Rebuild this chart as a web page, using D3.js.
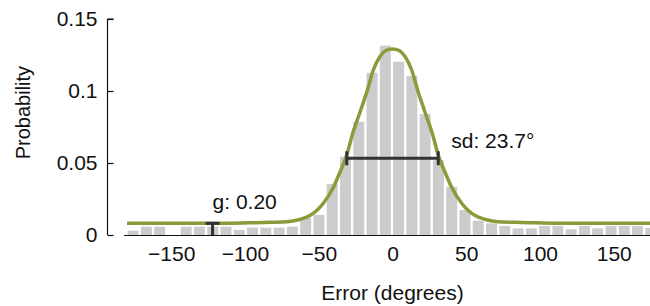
<!DOCTYPE html>
<html>
<head>
<meta charset="utf-8">
<script src="https://cdn.jsdelivr.net/npm/d3@7"></script>
<style>
  html, body { margin: 0; padding: 0; background: #fff; }
  svg { display: block; }
  text { font-family: "Liberation Sans", Arial, Helvetica, sans-serif; fill: #111; }
  .tick-label { font-size: 21px; }
  .axis-label { font-size: 21px; }
  .y-label { font-size: 20px; }
  .note { font-size: 21px; }
</style>
</head>
<body>
<svg id="chart" width="650" height="306"></svg>
<script>
// histogram bins: left edge of each 9-degree bin
const binEdges = [
  -180, -171, -162, -153, -144, -135, -126, -117, -108, -99,
  -90, -81, -72, -63, -54, -45, -36, -27, -18, -9,
  0, 9, 18, 27, 36, 45, 54, 63, 72, 81,
  90, 99, 108, 117, 126, 135, 144, 153, 162, 171
];
const binProb = [
  0.0030, 0.0058, 0.0058, 0.0000, 0.0058, 0.0058, 0.0058, 0.0058, 0.0035, 0.0051,
  0.0051, 0.0051, 0.0058, 0.0118, 0.0139, 0.0354, 0.0544, 0.0787, 0.1127, 0.1315,
  0.1203, 0.1104, 0.0840, 0.0520, 0.0335, 0.0174, 0.0099, 0.0081, 0.0063, 0.0046,
  0.0046, 0.0063, 0.0063, 0.0040, 0.0063, 0.0046, 0.0063, 0.0063, 0.0063, 0.0050
];
const binWidth = 9;

// fitted model curve
const curveDeg = [
  -180, -125, -97, -83, -70, -63, -56, -51, -47, -40, -36, -31, -27, -22, -17, -13, -8.5, -4.5, 0,
  4.5, 8.5, 13, 17, 22, 27, 31, 36, 40, 47, 51, 56, 63, 70, 83, 97, 125, 180
];
const curveProb = [
  0.0081, 0.0081, 0.0085, 0.0088, 0.0094, 0.0108, 0.0135, 0.0174, 0.0219, 0.0333, 0.0427, 0.0556, 0.0705, 0.0854, 0.1007, 0.1146, 0.1240, 0.1281, 0.1292,
  0.1281, 0.1240, 0.1146, 0.1007, 0.0854, 0.0705, 0.0556, 0.0427, 0.0333, 0.0219, 0.0174, 0.0135, 0.0108, 0.0094, 0.0088, 0.0085, 0.0081, 0.0081
];

const xTicks = [-150, -100, -50, 0, 50, 100, 150];
const yTicks = [0, 0.05, 0.1, 0.15];
const yTickLabels = ['0', '0.05', '0.1', '0.15'];

// annotation markers
const sdBar = [-31, 31];
const sdLevel = 0.0533;
const sdLabel = 'sd: 23.7°';
const gPos = -122;
const gLevel = 0.0081;
const gLabel = 'g: 0.20';

const W = 650, H = 306;
const green = '#899b3a';
const dark = '#333333';

const svg = d3.select('#chart');

const x = d3.scaleLinear().domain([-180, 180]).range([127, 658]);
const y = d3.scaleLinear().domain([0, 0.15]).range([235, 19]);

// bars
svg.append('g')
  .selectAll('rect')
  .data(binEdges.map((e, i) => ({ e, p: binProb[i] })))
  .join('rect')
  .attr('x', d => x(d.e) + 0.6)
  .attr('width', d => x(d.e + binWidth) - x(d.e) - 2.3)
  .attr('y', d => y(d.p))
  .attr('height', d => y(0) - y(d.p))
  .attr('fill', '#cccccc');

// x axis: plain line, no ticks
const xAxis = svg.append('g')
  .attr('transform', `translate(0,${y(0) + 0.5})`)
  .call(d3.axisBottom(x).tickValues(xTicks).tickSize(0).tickPadding(11).tickFormat(d3.format('d')));
xAxis.select('.domain')
  .attr('d', `M${x(-182)},0H${W}`)
  .attr('stroke', '#111').attr('stroke-width', 1.2);
xAxis.selectAll('text').attr('class', 'tick-label').attr('font-size', null).attr('font-family', null);

svg.append('text')
  .attr('class', 'axis-label')
  .attr('x', x(0))
  .attr('y', 300)
  .attr('text-anchor', 'middle')
  .text('Error (degrees)');

// y axis: ticks pointing inward
const yAxis = svg.append('g')
  .attr('transform', 'translate(107.5,0)')
  .call(d3.axisLeft(y).tickValues(yTicks).tickSize(-6).tickPadding(10)
    .tickFormat((d, i) => yTickLabels[i]));
yAxis.select('.domain')
  .attr('d', `M0,${y(0.15)}V${y(0)}M6,${y(0.15)}H0`)
  .attr('stroke', '#111').attr('stroke-width', 1.2);
yAxis.selectAll('.tick line').attr('stroke', '#111').attr('stroke-width', 1.2);
yAxis.selectAll('.tick text').attr('class', 'tick-label').attr('font-size', null).attr('font-family', null);

svg.append('text')
  .attr('class', 'y-label')
  .attr('transform', `translate(30,${y(0.085)}) rotate(-90)`)
  .attr('text-anchor', 'middle')
  .text('Probability');

// fitted curve
const line = d3.line()
  .x((d, i) => x(curveDeg[i]))
  .y(d => y(d))
  .curve(d3.curveMonotoneX);

svg.append('path')
  .datum(curveProb)
  .attr('d', line)
  .attr('fill', 'none')
  .attr('stroke', green)
  .attr('stroke-width', 3.5)
  .attr('stroke-linejoin', 'round');

// sd bar
const sdG = svg.append('g').attr('stroke', dark).attr('stroke-width', 3);
sdG.append('line')
  .attr('x1', x(sdBar[0])).attr('x2', x(sdBar[1]))
  .attr('y1', y(sdLevel)).attr('y2', y(sdLevel));
sdBar.forEach(v => {
  sdG.append('line')
    .attr('x1', x(v)).attr('x2', x(v))
    .attr('y1', y(sdLevel) - 7).attr('y2', y(sdLevel) + 7);
});
svg.append('text')
  .attr('class', 'note')
  .attr('x', x(sdBar[1]) + 13)
  .attr('y', y(sdLevel) - 10)
  .text(sdLabel);

// g marker
const gG = svg.append('g').attr('stroke', dark).attr('stroke-width', 3);
gG.append('line')
  .attr('x1', x(gPos)).attr('x2', x(gPos))
  .attr('y1', y(gLevel)).attr('y2', y(0));
gG.append('line')
  .attr('x1', x(gPos) - 7).attr('x2', x(gPos) + 7)
  .attr('y1', y(gLevel)).attr('y2', y(gLevel));
svg.append('text')
  .attr('class', 'note')
  .attr('x', x(gPos))
  .attr('y', y(gLevel) - 14)
  .text(gLabel);
</script>
</body>
</html>
